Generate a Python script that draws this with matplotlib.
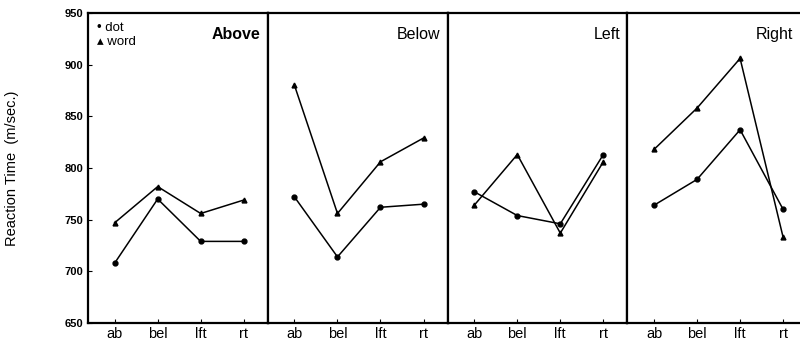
#!/usr/bin/env python3

import matplotlib as mpl
import matplotlib.pyplot as plt

mpl.rcParams['font.family'] = ['Liberation Sans', 'DejaVu Sans']

positions = ["ab", "bel", "lft", "rt"]
panels = ["Above", "Below", "Left", "Right"]

# reaction times (msec)
dot_rt = {
    "Above": [708, 770, 729, 729],
    "Below": [772, 714, 762, 765],
    "Left": [777, 754, 746, 813],
    "Right": [764, 789, 837, 760],
}
word_rt = {
    "Above": [747, 782, 756, 769],
    "Below": [880, 756, 806, 829],
    "Left": [764, 813, 737, 806],
    "Right": [818, 858, 906, 733],
}
y_ticks = [650, 700, 750, 800, 850, 900, 950]

fig, axes = plt.subplots(1, 4, figsize=(8, 3.5), dpi=100, sharey=True)
fig.subplots_adjust(left=0.11, right=1.009, bottom=0.077, top=0.963, wspace=0)

for ax, name in zip(axes, panels):
    x = range(len(positions))
    ax.plot(x, dot_rt[name], color="black", lw=1.1, marker="o", ms=3.5)
    ax.plot(x, word_rt[name], color="black", lw=1.1, marker="^", ms=3.5)
    ax.set_xlim(-0.62, 3.56)
    ax.set_ylim(650, 950)
    ax.set_xticks(list(x))
    ax.set_xticklabels(positions, fontsize=10.5)
    ax.tick_params(axis="x", direction="in", length=3, pad=3)
    ax.tick_params(axis="y", direction="in", length=3)
    for s in ax.spines.values():
        s.set_linewidth(1.6)
    xr = 0.92 if name == "Right" else 0.96
    ax.text(xr, 0.955, name, transform=ax.transAxes, ha="right", va="top",
            fontsize=11.5, fontweight="bold" if name == "Above" else "normal")

axes[0].set_yticks(y_ticks)
axes[0].set_yticklabels([str(t) for t in y_ticks], fontsize=8, fontweight="bold")
axes[0].set_ylabel("Reaction Time  (m/sec.)", fontsize=10.5, labelpad=33)
for ax in axes[1:]:
    ax.tick_params(axis="y", left=False)

# legend, as in the original: symbols typed into the first panel
axes[0].text(0.05, 0.97, "\u2022 dot", transform=axes[0].transAxes,
             ha="left", va="top", fontsize=9.5)
axes[0].text(0.05, 0.925, "\u25b4 word", transform=axes[0].transAxes,
             ha="left", va="top", fontsize=9.5)

plt.savefig("out.png", dpi=100)
